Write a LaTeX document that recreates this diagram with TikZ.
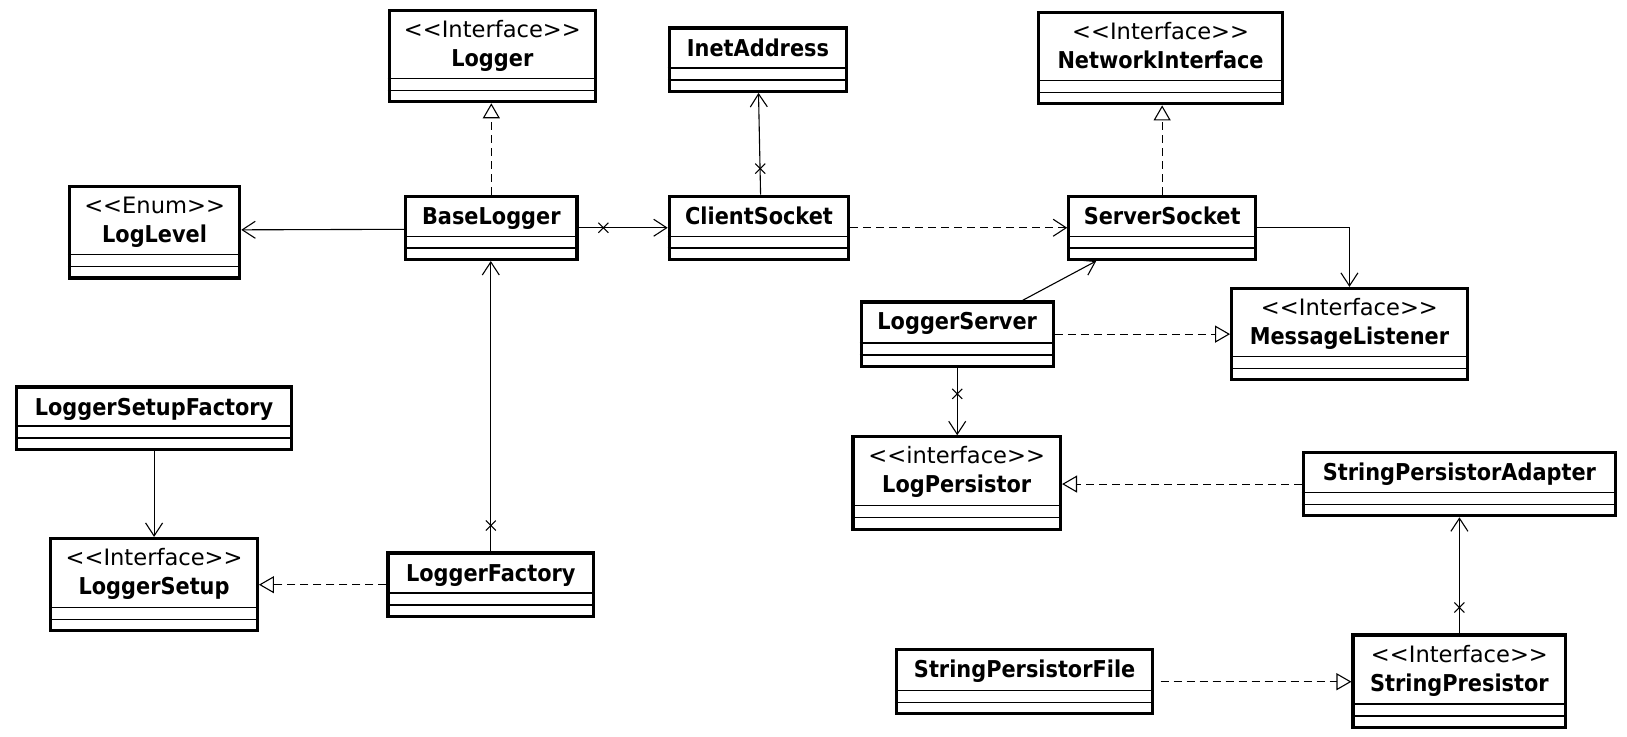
\documentclass[tikz,border=0pt]{standalone}
\usepackage{fontspec}
\setmainfont{DejaVu Sans Condensed}
\newfontfamily\stfont{DejaVu Sans}
\usetikzlibrary{arrows.meta,fit,calc}
\newcommand{\umlclass}[7]{%
  \coordinate (#1-nw) at (#2,#3);
  \coordinate (#1-se) at (#4,#5);
  \node[clsbox, fit=(#1-nw)(#1-se)] (#1) {};
  \draw[cline] ($(#1.south west)+(0,-24)$) -- ($(#1.south east)+(0,-24)$);
  \draw[cline] ($(#1.south west)+(0,-12.5)$) -- ($(#1.south east)+(0,-12.5)$);
  \if\relax\detokenize{#6}\relax
    \node[nm] (#1-t) at ({(#2+#4)/2},{#3+27}) {#7};
  \else
    \node[st] (#1-s) at ({(#2+#4)/2},{#3+26}) {#6};
    \node[nm] (#1-t) at ({(#2+#4)/2},{#3+54}) {#7};
  \fi
}
\newcommand{\stp}[1]{<\kern0pt<#1>\kern0pt>}
\begin{document}
\begin{tikzpicture}[x=0.5188pt,y=-0.5188pt,
  clsbox/.style={draw, line width=1.6pt, inner sep=0pt},
  conn/.style={line width=0.55pt},
  assoc/.style={conn, -{Straight Barb[length=6.5pt,width=8.5pt]}},
  dep/.style={assoc, dash pattern=on 4pt off 2.5pt},
  real/.style={conn, dash pattern=on 4pt off 2.5pt, -{Triangle[open,length=7.5pt,width=8.5pt]}},
  cline/.style={line width=0.6pt},
  nm/.style={font=\bfseries\fontsize{11.6}{13}\selectfont, inner sep=0pt, anchor=base},
  st/.style={font=\stfont\fontsize{11.3}{13}\selectfont, inner sep=0pt, anchor=base},
  xm/.pic={\draw[conn] (-4.8,-4.8)--(4.8,4.8) (-4.8,4.8)--(4.8,-4.8);}
]
\fill[white] (0,0) rectangle (1568,710);
\useasboundingbox (0,0) rectangle (1568,710);

\umlclass{lg}{375}{10}{574}{98}{\stp{Interface}}{Logger}
\umlclass{ia}{645}{27}{816}{88}{}{InetAddress}
\umlclass{ni}{1001}{12}{1236}{100}{\stp{Interface}}{NetworkInterface}
\umlclass{ll}{67}{180}{231}{268}{\stp{Enum}}{LogLevel}
\umlclass{bl}{391}{189}{556}{250}{}{BaseLogger}
\umlclass{cs}{645}{189}{818}{250}{}{ClientSocket}
\umlclass{ss}{1030}{189}{1210}{250}{}{ServerSocket}
\umlclass{ls}{830}{291}{1015}{353}{}{LoggerServer}
\umlclass{ml}{1187}{278}{1414}{366}{\stp{Interface}}{MessageListener}
\umlclass{lsf}{16}{373}{281}{433}{}{LoggerSetupFactory}
\umlclass{lp}{822}{421}{1022}{510}{\stp{interface}}{LogPersistor}
\umlclass{spa}{1256}{436}{1557}{497}{}{StringPersistorAdapter}
\umlclass{lsu}{49}{519}{248}{608}{\stp{Interface}}{LoggerSetup}
\umlclass{lf}{374}{533}{572}{594}{}{LoggerFactory}
\umlclass{spf}{864}{626}{1111}{688}{}{StringPersistorFile}
\umlclass{sp}{1304}{612}{1509}{701}{\stp{Interface}}{StringPresistor}

% connectors
\draw[real] (bl.north) -- (bl.north |- lg.south);
\draw[assoc] ($(bl.west)+(0,1.5)$) -- ($(ll.east)+(0,-2.5)$);
\draw[assoc] (bl.east) -- (bl.east -| cs.west);
\pic at ($(bl.east)+(24,0)$) {xm};
\draw[assoc] ($(cs.north)+(1.5,0)$) -- ($(ia.south)+(0.5,0)$);
\pic at ($(cs.north)+(1.2,-25)$) {xm};
\draw[dep] (cs.east) -- (cs.east -| ss.west);
\draw[real] (ss.north) -- (ss.north |- ni.south);
\draw[assoc] (ss.east) -| (ml.north);
\draw[assoc] ($(ls.north east)+(-31,0)$) -- ($(ss.south west)+(28,0)$);
\draw[real] (ls.east) -- (ls.east -| ml.west);
\draw[assoc] (ls.south) -- (ls.south |- lp.north);
\pic at ($(ls.south)+(0,25)$) {xm};
\draw[real] (spa.west) -- (spa.west -| lp.east);
\draw[assoc] (sp.north) -- (sp.north |- spa.south);
\pic at ($(sp.north)+(0,-25)$) {xm};
\draw[real] ($(spf.east)+(6,0)$) -- (spf.east -| sp.west);
\draw[assoc] (lf.north) -- (lf.north |- bl.south);
\pic at ($(lf.north)+(0,-25)$) {xm};
\draw[real] (lf.west) -- (lf.west -| lsu.east);
\draw[assoc] (lsf.south) -- (lsf.south |- lsu.north);
\end{tikzpicture}
\end{document}
